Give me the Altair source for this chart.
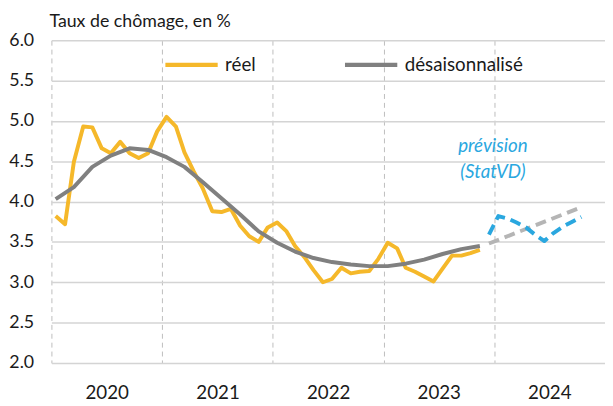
import altair as alt
import pandas as pd

# ---- data ----
reel_months = [f"{y}-{m:02d}" for y in (2020, 2021, 2022, 2023) for m in range(1, 13)][:47]
reel_values = [3.82, 3.72, 4.49, 4.93, 4.92, 4.66, 4.60, 4.74, 4.60, 4.54, 4.60, 4.87,
               5.05, 4.93, 4.61, 4.37, 4.16, 3.88, 3.87, 3.91, 3.70, 3.57, 3.50, 3.68,
               3.74, 3.63, 3.45, 3.31, 3.15, 3.00, 3.04, 3.18, 3.11, 3.13, 3.14, 3.29,
               3.49, 3.42, 3.18, 3.13, 3.07, 3.01, 3.17, 3.33, 3.33, 3.36, 3.40]

desais_months = [f"{y}-{m:02d}" for y in (2020, 2021, 2022, 2023) for m in (1, 3, 5, 7, 9, 11)]
desais_values = [4.03, 4.18, 4.43, 4.57, 4.66, 4.64,
                 4.55, 4.43, 4.24, 4.04, 3.84, 3.63,
                 3.49, 3.38, 3.30, 3.25, 3.22, 3.20,
                 3.20, 3.23, 3.28, 3.35, 3.41, 3.45]

trend_fc_months = ["2023-12", "2024-10"]
trend_fc_values = [3.48, 3.93]

prev_months = ["2023-12", "2024-01", "2024-02", "2024-03", "2024-04", "2024-05",
               "2024-06", "2024-07", "2024-08", "2024-09", "2024-10"]
prev_values = [3.59, 3.82, 3.79, 3.74, 3.68, 3.59, 3.51, 3.61, 3.69, 3.75, 3.81]

series_names = ["réel", "désaisonnalisé"]
series_colors = ["#F5B82A", "#808080"]
year_ticks = [2020, 2021, 2022, 2023, 2024]
y_ticks = [2.0, 2.5, 3.0, 3.5, 4.0, 4.5, 5.0, 5.5, 6.0]

note_lines = ["prévision", "(StatVD)"]
note_month = "2023-12-28"
note_values = [4.69, 4.37]

FONT = "Lato"
BLUE = "#2AA7DF"

# ---- tables ----
def d(m):
    return m + "-15"

main_df = pd.DataFrame(
    [{"date": d(m), "value": v, "serie": "réel"} for m, v in zip(reel_months, reel_values)]
    + [{"date": d(m), "value": v, "serie": "désaisonnalisé"} for m, v in zip(desais_months, desais_values)]
)
trend_df = pd.DataFrame({"date": [d(m) for m in trend_fc_months], "value": trend_fc_values})
prev_df = pd.DataFrame({"date": [d(m) for m in prev_months], "value": prev_values})
note_df = pd.DataFrame({"date": [note_month] * 2, "value": note_values, "txt": note_lines})

x_enc = alt.X(
    "date:T",
    title=None,
    scale=alt.Scale(
        type="utc",
        domain=[alt.DateTime(year=2020, month=1, date=1, utc=True),
                alt.DateTime(year=2025, month=1, date=1, utc=True)],
    ),
    axis=alt.Axis(
        values=[alt.DateTime(year=y, month=1, date=1, utc=True) for y in year_ticks],
        format="%Y",
        labelOffset=56,
        labelAlign="center",
        labelFont=FONT,
        labelFontSize=19,
        labelColor="#1a1a1a",
        labelPadding=21,
        ticks=False,
        domain=False,
        grid=True,
        gridColor="#bdbdbd",
        gridDash=[5, 4],
        gridWidth=1,
    ),
)
y_enc = alt.Y(
    "value:Q",
    title=None,
    scale=alt.Scale(domain=[2, 6], nice=False, zero=False),
    axis=alt.Axis(
        values=y_ticks,
        format=".1f",
        labelFont=FONT,
        labelFontSize=18,
        labelColor="#1a1a1a",
        labelPadding=18,
        ticks=False,
        domain=False,
        grid=True,
        gridColor="#d4d4d4",
        gridWidth=1.5,
    ),
)

main = alt.Chart(main_df).mark_line(strokeWidth=4, strokeJoin="round", strokeCap="butt").encode(
    x=x_enc,
    y=y_enc,
    color=alt.Color(
        "serie:N",
        scale=alt.Scale(domain=series_names, range=series_colors),
        sort=series_names,
        legend=alt.Legend(
            title=None,
            orient="none",
            legendX=113,
            legendY=-4,
            direction="horizontal",
            symbolType="stroke",
            symbolSize=2809,
            symbolStrokeWidth=4.5,
            labelFont=FONT,
            labelFontSize=19,
            labelColor="#1a1a1a",
            labelOffset=5,
            columnPadding=80,
        ),
    ),
    order=alt.Order("date:T"),
)

trend = alt.Chart(trend_df).mark_line(strokeWidth=4, strokeDash=[11, 6], color="#B5B5B5").encode(
    x="date:T", y="value:Q"
)
prev = alt.Chart(prev_df).mark_line(strokeWidth=4, strokeDash=[11, 6], color=BLUE, strokeJoin="round").encode(
    x="date:T", y="value:Q"
)
note = alt.Chart(note_df).mark_text(
    font=FONT, fontSize=19, fontStyle="italic", color=BLUE, align="center", baseline="middle"
).encode(x="date:T", y="value:Q", text="txt:N")

chart = (
    alt.layer(trend, prev, main, note)
    .properties(
        width=561,
        height=327,
        padding={"left": 0, "right": 0, "top": 3, "bottom": 0},
        title=alt.TitleParams(
            "Taux de chômage, en %",
            anchor="start",
            frame="group",
            font=FONT,
            fontSize=18,
            fontWeight="normal",
            color="#1a1a1a",
            dx=-2,
            offset=0,
        ),
    )
    .configure_view(stroke=None)
)

chart.save("out.html", embed_options={"renderer": "svg", "actions": False})
